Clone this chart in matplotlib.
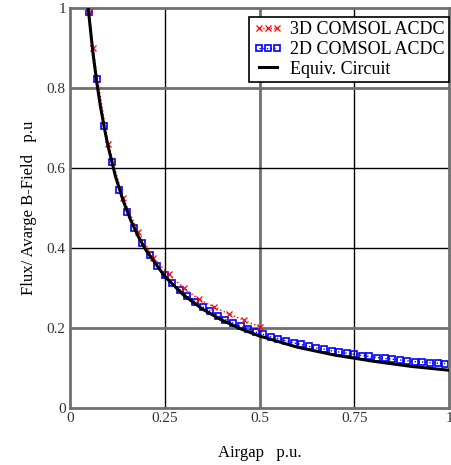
import matplotlib
matplotlib.use("Agg")
import matplotlib.pyplot as plt

# 3D COMSOL ACDC (red x)
x_3d = [0.05, 0.06, 0.10, 0.14, 0.18, 0.22, 0.26, 0.30, 0.34, 0.38, 0.42, 0.46, 0.50]
y_3d = [0.99, 0.90, 0.66, 0.525, 0.44, 0.375, 0.335, 0.300, 0.272, 0.252, 0.235, 0.219, 0.203]

# 2D COMSOL ACDC (blue squares)
x_2d = [0.05, 0.07, 0.09, 0.11, 0.13, 0.15, 0.17, 0.19, 0.21, 0.23,
        0.25, 0.27, 0.29, 0.31, 0.33, 0.35, 0.37, 0.39, 0.41, 0.43,
        0.45, 0.47, 0.49, 0.51, 0.53, 0.55, 0.57, 0.59, 0.61, 0.63,
        0.65, 0.67, 0.69, 0.71, 0.73, 0.75, 0.77, 0.79, 0.81, 0.83,
        0.85, 0.87, 0.89, 0.91, 0.93, 0.95, 0.97, 0.99]
y_2d = [0.99, 0.822, 0.705, 0.615, 0.545, 0.49, 0.45, 0.413, 0.382, 0.356,
        0.333, 0.313, 0.296, 0.280, 0.266, 0.253, 0.242, 0.231, 0.221, 0.212,
        0.204, 0.197, 0.190, 0.184, 0.178, 0.173, 0.168, 0.163, 0.159, 0.154,
        0.150, 0.147, 0.143, 0.140, 0.137, 0.134, 0.131, 0.129, 0.126, 0.124,
        0.122, 0.120, 0.118, 0.116, 0.115, 0.113, 0.112, 0.111]

# Equivalent circuit (black line)
x_eq = [0.048, 0.06, 0.07, 0.08, 0.09, 0.10, 0.12, 0.14, 0.16, 0.18, 0.20,
        0.25, 0.30, 0.35, 0.40, 0.45, 0.50, 0.60, 0.70, 0.80, 0.90, 1.00]
y_eq = [1.0, 0.892, 0.818, 0.756, 0.703, 0.656, 0.579, 0.519, 0.470, 0.429, 0.395,
        0.329, 0.282, 0.247, 0.220, 0.198, 0.180, 0.152, 0.132, 0.117, 0.104, 0.0944]

plt.rcParams['font.family'] = ['Liberation Serif', 'DejaVu Serif']

fig = plt.figure(figsize=(4.51, 4.65), dpi=100)
ax = fig.add_axes([70 / 451, 57 / 465, 379 / 451, 400 / 465])

# grid: mathcad-like, alternating grey/black lines
for gx, col, lw in [(0.25, 'black', 1.0), (0.5, '#707070', 2.0), (0.75, 'black', 1.0)]:
    ax.axvline(gx, color=col, lw=lw, zorder=0)
for gy, col, lw in [(0.2, '#707070', 2.0), (0.4, 'black', 1.0), (0.6, 'black', 1.0), (0.8, '#707070', 2.0)]:
    ax.axhline(gy, color=col, lw=lw, zorder=0)

ax.plot(x_3d, y_3d, color='red', ls=':', lw=1.0, marker='x', ms=5, mew=0.9,
        label='3D COMSOL ACDC', zorder=3)
ax.plot(x_2d, y_2d, color='blue', ls=':', lw=1.0, marker='s', ms=5, mew=1.2,
        mfc='none', label='2D COMSOL ACDC', zorder=2)
ax.plot(x_eq, y_eq, color='black', lw=2.2, label='Equiv. Circuit', zorder=4)

ax.set_xlim(0, 1)
ax.set_ylim(0, 1)
ax.set_xticks([0, 0.25, 0.5, 0.75, 1])
ax.set_xticklabels(['0', '0.25', '0.5', '0.75', '1'])
ax.set_yticks([0, 0.2, 0.4, 0.6, 0.8, 1])
ax.set_yticklabels(['0', '0.2', '0.4', '0.6', '0.8', '1'])
ax.tick_params(length=0, labelsize=11, colors='#333333', pad=3)
for s in ax.spines.values():
    s.set_color('#707070')
    s.set_linewidth(2.0)

ax.set_xlabel('Airgap   p.u.', fontsize=12, labelpad=14)
ax.set_ylabel('Flux/ Avarge B-Field   p.u', fontsize=12, labelpad=7)

leg = ax.legend(loc='upper right', bbox_to_anchor=(1.0, 0.978), fontsize=13,
                frameon=True, fancybox=False, edgecolor='black', framealpha=1,
                handlelength=1.6, handletextpad=0.4, borderpad=0.25,
                labelspacing=0.15, borderaxespad=0, numpoints=3)
leg.get_frame().set_linewidth(1.2)

fig.savefig('out.png', dpi=100)
